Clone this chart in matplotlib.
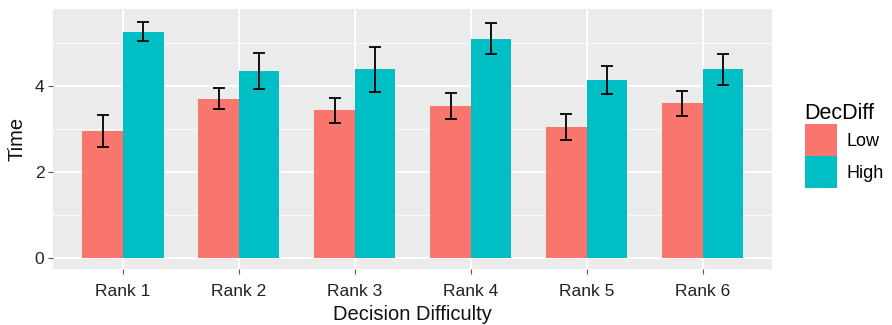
import matplotlib
matplotlib.use("Agg")
import matplotlib.pyplot as plt
import numpy as np
from matplotlib.patches import Patch

plt.rcParams['font.family'] = ['Liberation Sans', 'DejaVu Sans']

categories = ["Rank 1", "Rank 2", "Rank 3", "Rank 4", "Rank 5", "Rank 6"]
low_vals = [2.95, 3.70, 3.43, 3.53, 3.05, 3.59]
low_err = [0.38, 0.24, 0.29, 0.30, 0.30, 0.29]
high_vals = [5.26, 4.35, 4.38, 5.09, 4.14, 4.38]
high_err = [0.23, 0.42, 0.53, 0.36, 0.33, 0.36]
series = ["Low", "High"]
colors = ["#F8766D", "#00BFC4"]

fig = plt.figure(figsize=(8.92, 3.25), dpi=100)
ax = fig.add_axes([0.0598, 0.171, 0.806, 0.801])
ax.set_facecolor("#EBEBEB")

x = np.arange(1, len(categories) + 1)
w = 0.35
for i, (vals, errs) in enumerate([(low_vals, low_err), (high_vals, high_err)]):
    pos = x + (i - 0.5) * w
    ax.bar(pos, vals, width=w, color=colors[i], zorder=3, label=series[i])
    ax.errorbar(pos, vals, yerr=errs, fmt='none', ecolor='black', elinewidth=1.3,
                capsize=4.5, capthick=1.3, zorder=4)

ax.set_xlim(0.4, 6.6)
ax.set_ylim(-0.26, 5.78)
ax.set_xticks(x)
ax.set_xticklabels(categories)
ax.set_yticks([0, 2, 4])
ax.set_yticks([1, 3, 5], minor=True)
ax.grid(which='major', color='white', linewidth=1.3, zorder=0)
ax.grid(which='minor', axis='y', color='white', linewidth=0.6, zorder=0)
ax.set_axisbelow(True)
for s in ax.spines.values():
    s.set_visible(False)
ax.tick_params(axis='both', which='major', length=3.5, width=0.8, color='#555555',
               labelsize=12.5, labelcolor='#222222', pad=3)
ax.tick_params(axis='x', which='major', pad=7)
ax.tick_params(axis='y', which='minor', length=0)
ax.set_xlabel("Decision Difficulty", fontsize=14.5, labelpad=4, color='#111111')
ax.set_ylabel("Time", fontsize=14.5, labelpad=6, color='#111111')

handles = [Patch(facecolor=c, edgecolor='none') for c in colors]
leg = fig.legend(handles, series, title="DecDiff", loc='upper left',
                 bbox_to_anchor=(0.894, 0.705), frameon=False, fontsize=13,
                 title_fontsize=15.5, handlelength=1.77, handleheight=2.35,
                 handletextpad=0.55, labelspacing=0.0, borderaxespad=0)
leg._legend_box.align = "left"

fig.savefig("out.png", dpi=100)
